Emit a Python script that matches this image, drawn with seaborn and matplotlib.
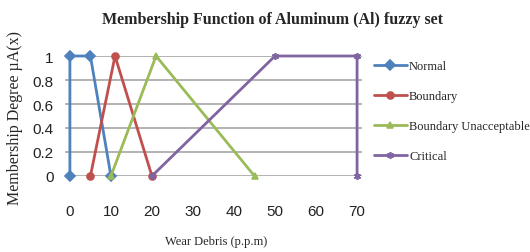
import matplotlib
matplotlib.use("Agg")
import matplotlib.pyplot as plt
import seaborn as sns
import pandas as pd

series_names = ["Normal", "Boundary", "Boundary Unacceptable", "Critical"]
normal_x = [0, 0, 5, 10]
normal_y = [0, 1, 1, 0]
boundary_x = [5, 11, 20]
boundary_y = [0, 1, 0]
unacc_x = [10, 21, 45]
unacc_y = [0, 1, 0]
critical_x = [20, 50, 70, 70]
critical_y = [0, 1, 1, 0]
x_ticks = [0, 10, 20, 30, 40, 50, 60, 70]
y_ticks = [0, 0.2, 0.4, 0.6, 0.8, 1]
y_tick_labels = ["0", "0.2", "0.4", "0.6", "0.8", "1"]

rows = []
for name, xs, ys in zip(series_names,
                        [normal_x, boundary_x, unacc_x, critical_x],
                        [normal_y, boundary_y, unacc_y, critical_y]):
    for i, (x, y) in enumerate(zip(xs, ys)):
        rows.append({"series": name, "x": x, "y": y, "order": i})
df = pd.DataFrame(rows)

sns.set_style("white")
serif = ["Liberation Serif", "DejaVu Serif"]
sans = ["Liberation Sans", "DejaVu Sans"]

colors = {"Normal": "#4F81BD", "Boundary": "#C0504D",
          "Boundary Unacceptable": "#9BBB59", "Critical": "#8064A2"}
markers = {"Normal": "D", "Boundary": "o",
           "Boundary Unacceptable": "^", "Critical": (6, 2, 0)}
msizes = {"Normal": 7, "Boundary": 7.5, "Boundary Unacceptable": 8, "Critical": 9}

fig = plt.figure(figsize=(5.30, 2.53), dpi=100)
ax = fig.add_axes([0.1226, 0.3004, 0.683 - 0.1226, 0.7747 - 0.3004])

for name in series_names:
    sub = df[df["series"] == name]
    sns.lineplot(data=sub, x="x", y="y", ax=ax, sort=False, estimator=None,
                 color=colors[name], marker=markers[name], markersize=msizes[name],
                 markeredgecolor=colors[name], markeredgewidth=1.2,
                 linewidth=2.2, label=name, clip_on=False, zorder=3)

ax.set_xlim(-1.2, 71.2)
ax.set_ylim(0, 1)
ax.set_xticks(x_ticks)
ax.set_yticks(y_ticks)
ax.set_yticklabels(y_tick_labels)
ax.yaxis.grid(True, color="#A6A6A6", linewidth=1.2)
ax.xaxis.grid(False)
for s in ax.spines.values():
    s.set_visible(False)
ax.tick_params(axis="x", length=0, pad=20, labelsize=11)
ax.tick_params(axis="y", length=0, pad=8, labelsize=11)
for lab in ax.get_xticklabels() + ax.get_yticklabels():
    lab.set_family(sans)
    lab.set_color("#222222")

ax.set_xlabel("Wear Debris (p.p.m)", family=serif, fontsize=9)
ax.set_ylabel("Membership Degree \u00b5A(x)", family=serif, fontsize=11.5)
ax.xaxis.set_label_coords((216 - 65) / (362 - 65), -(236 - 177) / 120)
ax.yaxis.set_label_coords(-(65 - 23) / (362 - 65), (177 - 118) / 120)

fig.text(273 / 530, 1 - 20 / 253, "Membership Function of Aluminum (Al) fuzzy set",
         family=serif, fontsize=11.5, fontweight="bold", ha="center", va="center")

handles, labels = ax.get_legend_handles_labels()
for h in handles:
    h.set_markersize(5)
    h.set_linewidth(2)
leg = ax.legend(handles, labels, loc="upper left",
                bbox_to_anchor=(374 / 530, 1 - 61 / 253), bbox_transform=fig.transFigure,
                frameon=False, prop={"family": serif, "size": 9},
                handlelength=2.6, handletextpad=0.2, labelspacing=1.45,
                borderaxespad=0, borderpad=0)

fig.savefig("out.png", dpi=100)
